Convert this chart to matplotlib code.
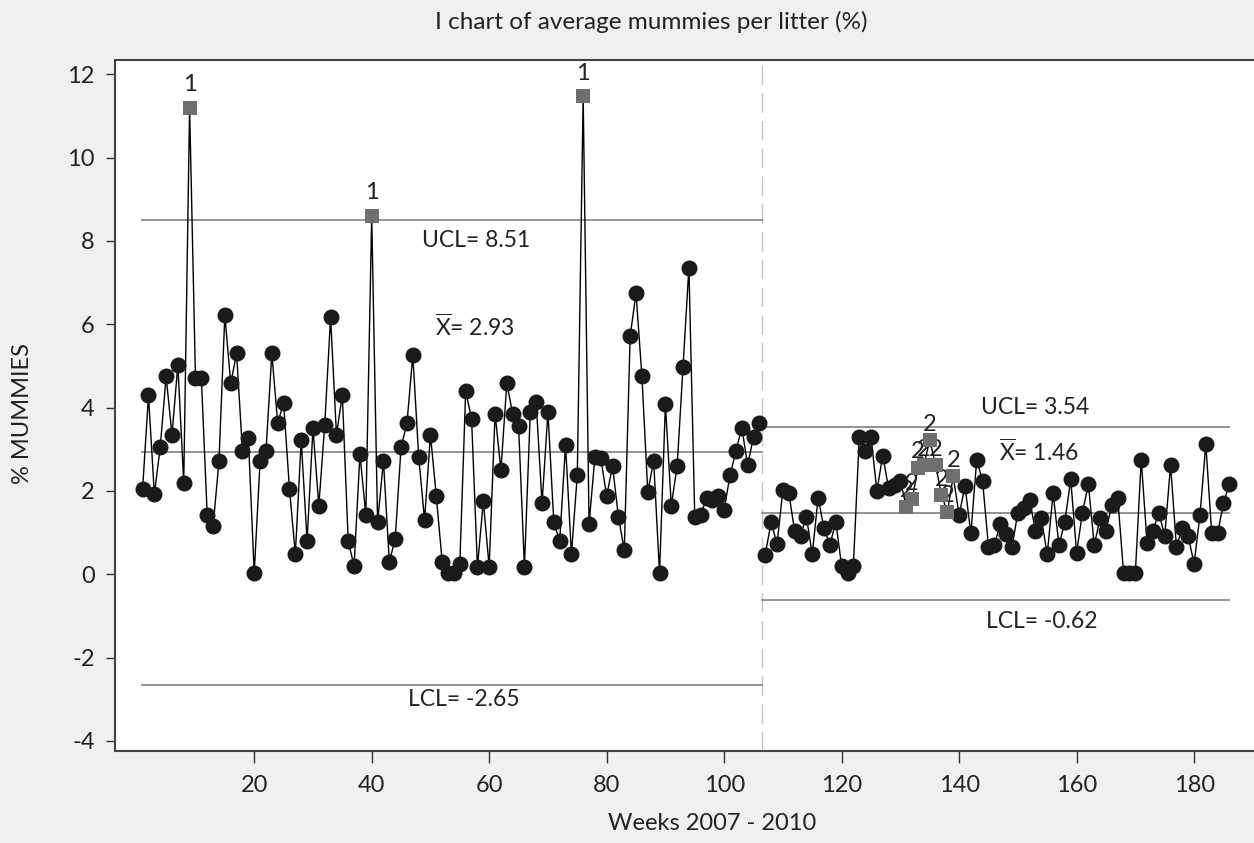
import numpy as np
import matplotlib
matplotlib.use("Agg")
import matplotlib.pyplot as plt

plt.rcParams['font.family'] = ['Lato', 'DejaVu Sans']
plt.rcParams['mathtext.fontset'] = 'custom'
plt.rcParams['mathtext.rm'] = 'Lato'
plt.rcParams['axes.unicode_minus'] = False

# --- data ---
phase1 = [2.05, 4.29, 1.92, 3.05, 4.75, 3.35, 5.02, 2.20, 11.20, 4.70,
          4.70, 1.42, 1.15, 2.72, 6.22, 4.58, 5.30, 2.95, 3.28, 0.03,
          2.72, 2.95, 5.30, 3.62, 4.12, 2.05, 0.48, 3.22, 0.80, 3.50,
          1.65, 3.58, 6.17, 3.35, 4.30, 0.80, 0.20, 2.88, 1.42, 8.60,
          1.25, 2.72, 0.30, 0.85, 3.05, 3.62, 5.26, 2.82, 1.30, 3.35,
          1.87, 0.30, 0.03, 0.03, 0.25, 4.40, 3.73, 0.18, 1.75, 0.18,
          3.85, 2.50, 4.58, 3.85, 3.57, 0.18, 3.90, 4.13, 1.70, 3.90,
          1.25, 0.80, 3.10, 0.48, 2.38, 11.47, 1.20, 2.82, 2.78, 1.88,
          2.60, 1.38, 0.58, 5.72, 6.74, 4.75, 1.98, 2.72, 0.03, 4.08,
          1.65, 2.60, 4.98, 7.36, 1.37, 1.42, 1.83, 1.78, 1.87, 1.55,
          2.38, 2.95, 3.52, 2.62, 3.30, 3.62]
phase2 = [0.47, 1.26, 0.72, 2.02, 1.95, 1.04, 0.93, 1.38, 0.48, 1.84,
          1.10, 0.70, 1.26, 0.20, 0.03, 0.20, 3.30, 2.97, 3.30, 2.00,
          2.85, 2.06, 2.15, 2.25, 1.62, 1.80, 2.55, 2.62, 3.22, 2.62,
          1.90, 1.50, 2.35, 1.42, 2.12, 0.98, 2.75, 2.23, 0.65, 0.70,
          1.20, 0.96, 0.65, 1.48, 1.60, 1.78, 1.04, 1.34, 0.48, 1.94,
          0.70, 1.26, 2.28, 0.52, 1.48, 2.17, 0.70, 1.34, 1.04, 1.67,
          1.84, 0.03, 0.03, 0.03, 2.75, 0.75, 1.04, 1.48, 0.92, 2.62,
          0.65, 1.12, 0.92, 0.25, 1.42, 3.12, 0.98, 0.98, 1.70, 2.17]

ucl = [8.51, 3.54]
center = [2.93, 1.46]
lcl = [-2.65, -0.62]
test1_weeks = [9, 40, 76]
test2_weeks = [131, 132, 133, 134, 135, 136, 137, 138, 139]

weeks1 = np.arange(1, len(phase1) + 1)
weeks2 = np.arange(len(phase1) + 1, len(phase1) + len(phase2) + 1)
split = len(phase1) + 0.5
values = np.array(phase1 + phase2)
weeks = np.concatenate([weeks1, weeks2])

bg = '#eff0f2'
fig = plt.figure(figsize=(12.54, 8.43), dpi=100, facecolor=bg)
W, H = 1254, 843
ax = fig.add_axes([115 / W, 1 - 751 / H, (1254 - 115) / W, (751 - 60) / H])
ax.set_facecolor('white')

# control limits per stage
lim_col = '#8a8a8a'
stages = [(weeks1[0] - 0.05, split), (split, weeks2[-1])]
for (x0, x1), u, c, l in zip(stages, ucl, center, lcl):
    for y in (u, c, l):
        ax.plot([x0, x1], [y, y], color=lim_col, lw=1.3, zorder=1)
ax.axvline(split, color='#c4c4c4', lw=1.0, ls=(0, (14, 6)), zorder=0)

# data line and markers
for wk, vals in ((weeks1, phase1), (weeks2, phase2)):
    ax.plot(wk, vals, color='black', lw=1.0, zorder=2)

flagged = np.isin(weeks, test1_weeks + test2_weeks)
ax.plot(weeks[~flagged], values[~flagged], 'o', color='#1a1a1a', ms=11.5,
        markeredgewidth=0, zorder=4)
ax.plot(weeks[flagged], values[flagged], 's', color='#6f6f6f', ms=10,
        markeredgewidth=0, zorder=4)

for w in test1_weeks:
    ax.annotate('1', (w, values[w - 1]), xytext=(0, 9), textcoords='offset points',
                ha='center', va='bottom', fontsize=17, color='#222222', zorder=3)
for w in test2_weeks:
    ax.annotate('2', (w, values[w - 1]), xytext=(0, 4), textcoords='offset points',
                ha='center', va='bottom', fontsize=17, color='#222222', zorder=3)

# limit labels
tkw = dict(fontsize=16.5, color='#222222', ha='center', va='center')
ax.text(57.8, 8.0, 'UCL= 8.51', **tkw)
ax.text(57.6, 5.94, r'$\overline{\mathrm{X}}$= 2.93', **tkw)
ax.text(55.6, -3.0, 'LCL= -2.65', **tkw)
ax.text(153.0, 4.0, 'UCL= 3.54', **tkw)
ax.text(153.7, 2.94, r'$\overline{\mathrm{X}}$= 1.46', **tkw)
ax.text(154.0, -1.14, 'LCL= -0.62', **tkw)

ax.set_xlim(-3.7, 190.2)
ax.set_ylim(-4.24, 12.34)
ax.set_xticks(np.arange(20, 181, 20))
ax.set_yticks(np.arange(-4, 13, 2))
ax.tick_params(axis='x', length=8.5, width=1, pad=8.5, labelsize=17, colors='#333333',
               labelcolor='#222222')
ax.tick_params(axis='y', length=6.5, width=1, pad=8, labelsize=17, colors='#333333',
               labelcolor='#222222')
for side in ('left', 'bottom', 'top'):
    ax.spines[side].set_color('#444444')
    ax.spines[side].set_linewidth(1.5)
ax.spines['right'].set_visible(False)

fig.text(651 / W, 1 - 22 / H, 'I chart of average mummies per litter (%)', ha='center',
         va='center', fontsize=17.5, color='#222222')
fig.text(712 / W, 1 - 824 / H, 'Weeks 2007 - 2010', ha='center', va='center',
         fontsize=17, color='#222222')
fig.text(23 / W, 1 - 413 / H, '% MUMMIES', ha='center', va='center', rotation=90,
         fontsize=17, color='#222222')

fig.savefig('out.png', dpi=100, facecolor=bg)
